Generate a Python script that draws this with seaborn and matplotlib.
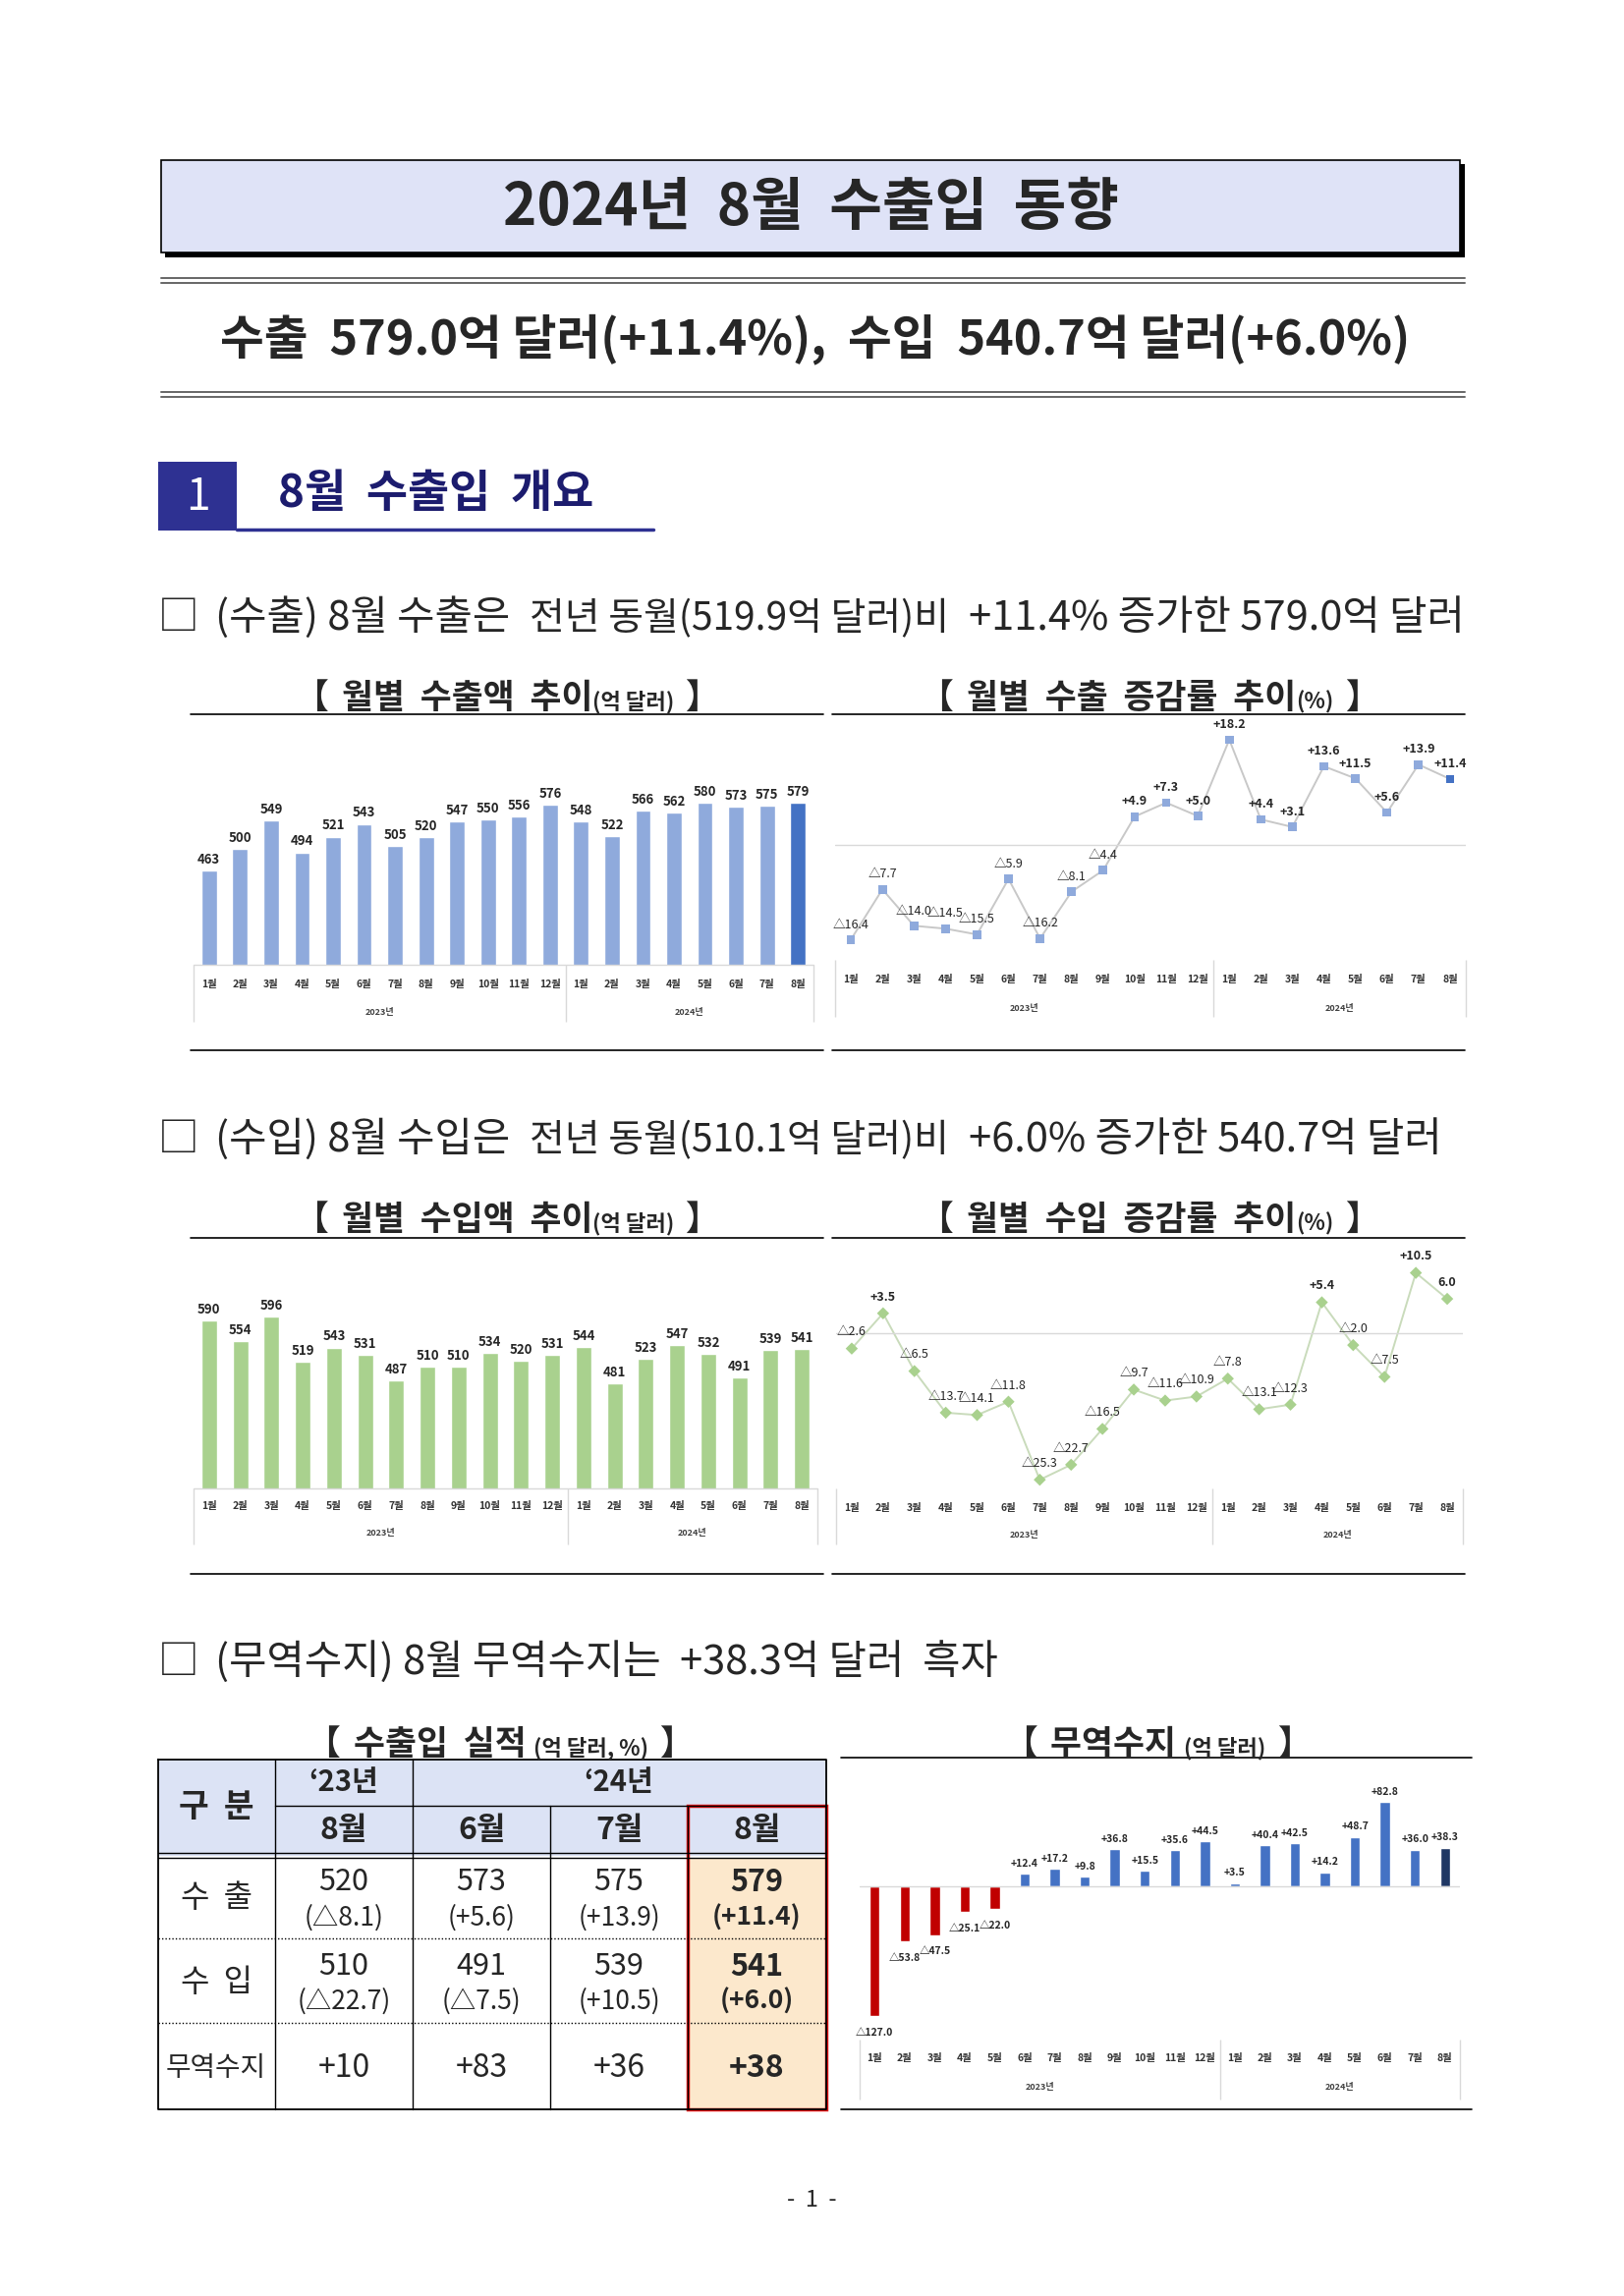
import matplotlib
matplotlib.use('Agg')
import matplotlib.pyplot as plt
from matplotlib.patches import Rectangle
import seaborn as sns
import pandas as pd

###############################################################################
# Data
###############################################################################

months = ['1월', '2월', '3월', '4월', '5월', '6월', '7월', '8월', '9월', '10월', '11월', '12월',
          '1월', '2월', '3월', '4월', '5월', '6월', '7월', '8월']
years = ['2023년', '2024년']
year_of = ['23'] * 12 + ['24'] * 8

# 수출액 (억 달러), 수출 증감률 (%)
exp_amt = [463, 500, 549, 494, 521, 543, 505, 520, 547, 550, 556, 576,
           548, 522, 566, 562, 580, 573, 575, 579]
exp_rate = [-16.4, -7.7, -14.0, -14.5, -15.5, -5.9, -16.2, -8.1, -4.4, 4.9, 7.3, 5.0,
            18.2, 4.4, 3.1, 13.6, 11.5, 5.6, 13.9, 11.4]

# 수입액 (억 달러), 수입 증감률 (%)
imp_amt = [590, 554, 596, 519, 543, 531, 487, 510, 510, 534, 520, 531,
           544, 481, 523, 547, 532, 491, 539, 541]
imp_rate = [-2.6, 3.5, -6.5, -13.7, -14.1, -11.8, -25.3, -22.7, -16.5, -9.7, -11.6, -10.9,
            -7.8, -13.1, -12.3, 5.4, -2.0, -7.5, 10.5, 6.0]

# 무역수지 (억 달러)
balance = [-127.0, -53.8, -47.5, -25.1, -22.0, 12.4, 17.2, 9.8, 36.8, 15.5, 35.6, 44.5,
           3.5, 40.4, 42.5, 14.2, 48.7, 82.8, 36.0, 38.3]

# 수출입 실적 표
tbl_head = ['8월', '6월', '7월', '8월']
tbl_rows = ['수  출', '수  입', '무역수지']
tbl_exp = [520, 573, 575, 579]
tbl_exp_rate = [-8.1, 5.6, 13.9, 11.4]
tbl_imp = [510, 491, 539, 541]
tbl_imp_rate = [-22.7, -7.5, 10.5, 6.0]
tbl_bal = ['+10', '+83', '+36', '+38']

###############################################################################
# Helpers
###############################################################################

W, H = 1653, 2337
keys = [f'{y}.{m}' for y, m in zip(year_of, months)]
idx = list(range(len(months)))


def fmt(v):
    return f'△{abs(v):.1f}' if v < 0 else f'+{v:.1f}'


sns.set_style('white')
plt.rcParams['font.family'] = ['Noto Sans CJK KR', 'DejaVu Sans']

fig = plt.figure(figsize=(W / 100, H / 100), dpi=100)
page = fig.add_axes([0, 0, 1, 1])
page.set_xlim(0, W)
page.set_ylim(H, 0)
page.axis('off')
renderer = fig.canvas.get_renderer()


def px_axes(x0, y0, x1, y1):
    ax = fig.add_axes([x0 / W, 1 - y1 / H, (x1 - x0) / W, (y1 - y0) / H])
    ax.patch.set_alpha(0)
    return ax


def rich(x, y, parts, center=True):
    '''draws text pieces of different size on one baseline'''
    texts, widths = [], []
    for s, size, wt, gap in parts:
        t = page.text(0, y, s, fontsize=size, fontweight=wt, va='baseline', ha='left')
        texts.append(t)
        widths.append(t.get_window_extent(renderer).width + gap)
    x0 = x - sum(widths) / 2 if center else x
    for t, w in zip(texts, widths):
        t.set_x(x0)
        x0 += w


def chart_title(cx, y, main, unit):
    rich(cx, y, [('【', 25, 'bold', 14), (main, 25, 'bold', 0), (unit, 16, 'bold', 12),
                 ('】', 25, 'bold', 0)])


def cat_axis(ax, month_dy, year_dy, div_dy):
    '''multi level category axis (월 / 연도) below the plot area, offsets in px'''
    h = ax.get_position().height * H
    for i, m in enumerate(months):
        ax.annotate(m, xy=(i, 0), xycoords=('data', 'axes fraction'), xytext=(0, -month_dy * 0.72),
                    textcoords='offset points', ha='center', va='center', fontsize=7.5,
                    fontweight='bold', color='#333333')
    for x, y in zip([5.5, 15.5], years):
        ax.annotate(y, xy=(x, 0), xycoords=('data', 'axes fraction'), xytext=(0, -year_dy * 0.72),
                    textcoords='offset points', ha='center', va='center', fontsize=6.5,
                    fontweight='bold', color='#404040')
    ax.vlines([-0.5, 11.5, 19.5], 0, -div_dy / h, transform=ax.get_xaxis_transform(),
              colors='#d9d9d9', lw=1, clip_on=False)
    ax.set_xlim(-0.5, 19.5)
    ax.set_axis_off()


def bar_chart(ax, vals, colors):
    df = pd.DataFrame({'key': keys, 'val': vals})
    sns.barplot(data=df, x='key', y='val', hue='key', palette=dict(zip(keys, colors)),
                legend=False, width=0.5, saturation=1, ax=ax)
    ax.set_ylim(300, 700)
    ax.axhline(300, color='#d9d9d9', lw=1, clip_on=False)
    for i, v in enumerate(vals):
        ax.annotate(f'{v}', xy=(i, v), xytext=(0, 3), textcoords='offset points',
                    ha='center', va='bottom', fontsize=9.5, fontweight='bold')


def rate_chart(ax, vals, labels, line_col, colors, marker, size, ylim, dy):
    sns.lineplot(x=idx, y=vals, color=line_col, lw=1.4, ax=ax)
    sns.scatterplot(x=idx, y=vals, hue=keys, palette=dict(zip(keys, colors)), marker=marker,
                    s=size, edgecolor='none', legend=False, ax=ax, zorder=3)
    ax.set_ylim(*ylim)
    ax.axhline(0, color='#d9d9d9', lw=1)
    for i, (v, lab) in enumerate(zip(vals, labels)):
        ax.annotate(lab, xy=(i, v), xytext=(0, dy), textcoords='offset points', ha='center',
                    va='center', fontsize=9, fontweight='bold' if v > 0 else 'normal')


###############################################################################
# Page header
###############################################################################

page.add_patch(Rectangle((168, 167), 1323, 95, fc='black', ec='none'))
page.add_patch(Rectangle((164, 163), 1322, 94, fc='#dfe3f7', ec='black', lw=1.2))
page.text(825, 212, '2024년  8월  수출입  동향', fontsize=42, fontweight='bold', ha='center', va='center')

for y in [283, 288, 399, 404]:
    page.plot([164, 1491], [y, y], color='#666666', lw=1.4)

rich(830, 360, [('수출  579.0억 달러(+11.4%),  수입  540.7억 달러(+6.0%)', 35, 'bold', 0)])

page.add_patch(Rectangle((161, 470), 80, 70, fc='#2e3192', ec='none'))
page.text(201, 506, '1', fontsize=32, color='white', ha='center', va='center')
page.text(283, 503, '8월  수출입  개요', fontsize=33, fontweight='bold', color='#1c1c6e', va='center')
page.plot([241, 665], [539, 539], color='#2e3192', lw=2.5)

###############################################################################
# 수출
###############################################################################

rich(161, 641, [('□', 30, 'normal', 16), ('(수출) 8월 수출은', 30, 'normal', 20),
                ('전년 동월(519.9억 달러)비', 28, 'normal', 20),
                ('+11.4% 증가한 579.0억 달러', 30, 'normal', 0)], center=False)

chart_title(516, 721, '월별  수출액  추이', '(억 달러)')
chart_title(1170, 721, '월별  수출  증감률  추이', '(%)')
for y in [727, 1069]:
    page.plot([194, 838], [y, y], color='black', lw=1.2)
    page.plot([847, 1491], [y, y], color='black', lw=1.2)

ax = px_axes(197, 746, 828, 982)
bar_chart(ax, exp_amt, ['#8faadc'] * 19 + ['#4472c4'])
cat_axis(ax, 20, 49, 58)

ax = px_axes(850, 740, 1492, 977)
rate_chart(ax, exp_rate, [fmt(v) for v in exp_rate], '#c8c8c8', ['#8faadc'] * 19 + ['#4472c4'],
           's', 40, (-19.9, 20.4), 11)
cat_axis(ax, 20, 49, 58)

###############################################################################
# 수입
###############################################################################

rich(161, 1172, [('□', 30, 'normal', 16), ('(수입) 8월 수입은', 30, 'normal', 20),
                 ('전년 동월(510.1억 달러)비', 28, 'normal', 20),
                 ('+6.0% 증가한 540.7억 달러', 30, 'normal', 0)], center=False)

chart_title(516, 1252, '월별  수입액  추이', '(억 달러)')
chart_title(1170, 1252, '월별  수입  증감률  추이', '(%)')
for y in [1260, 1602]:
    page.plot([194, 838], [y, y], color='black', lw=1.2)
    page.plot([847, 1491], [y, y], color='black', lw=1.2)

ax = px_axes(197, 1279, 832, 1515)
bar_chart(ax, imp_amt, ['#a9d18e'] * 20)
cat_axis(ax, 18, 46, 57)

imp_labels = [fmt(v) for v in imp_rate]
imp_labels[-1] = '6.0'
ax = px_axes(851, 1275, 1489, 1515)
rate_chart(ax, imp_rate, imp_labels, '#c9dbbb', ['#a9d18e'] * 20, 'D', 40, (-26.8, 14.0), 12)
cat_axis(ax, 20, 48, 57)

###############################################################################
# 무역수지
###############################################################################

rich(161, 1704, [('□', 30, 'normal', 16), ('(무역수지) 8월 무역수지는', 30, 'normal', 20),
                 ('+38.3억 달러  흑자', 30, 'normal', 0)], center=False)

chart_title(509, 1786, '수출입  실적 ', '(억 달러, %)')
chart_title(1178, 1786, '무역수지 ', '(억 달러)')
page.plot([856, 1498], [1789, 1789], color='black', lw=1.2)
page.plot([856, 1498], [2147, 2147], color='black', lw=1.2)

# table
cols = [161, 280, 420, 560, 700, 841]
page.add_patch(Rectangle((161, 1791), 680, 98, fc='#dce3f5', ec='none'))
page.add_patch(Rectangle((700, 1891), 141, 256, fc='#fce8cc', ec='none'))
page.plot([161, 841, 841, 161, 161], [1791, 1791, 2147, 2147, 1791], color='black', lw=1.3)
for x in [280, 420]:
    page.plot([x, x], [1791, 2147], color='black', lw=1)
for x in [560, 700]:
    page.plot([x, x], [1838, 2147], color='black', lw=1)
page.plot([280, 841], [1838, 1838], color='black', lw=1)
for y in [1886, 1891]:
    page.plot([161, 841], [y, y], color='black', lw=1)
for y in [1973, 2059]:
    page.plot([161, 841], [y, y], color='black', lw=1, ls=(0, (1, 1.5)))
page.add_patch(Rectangle((700, 1838), 141, 309, fill=False, ec='#e01010', lw=2.5))

page.text(220, 1840, '구  분', fontsize=24, fontweight='bold', ha='center', va='center')
page.text(350, 1814, '‘23년', fontsize=21, fontweight='bold', ha='center', va='center')
page.text(630, 1814, '‘24년', fontsize=21, fontweight='bold', ha='center', va='center')
for j, hd in enumerate(tbl_head):
    page.text((cols[j + 1] + cols[j + 2]) / 2, 1863, hd, fontsize=23, fontweight='bold',
              ha='center', va='center')
for lab, y in zip(tbl_rows, [1932, 2018, 2105]):
    page.text(220, y, lab, fontsize=23 if lab != '무역수지' else 20, ha='center', va='center')
for j in range(4):
    cx = (cols[j + 1] + cols[j + 2]) / 2
    wt = 'bold' if j == 3 else 'normal'
    page.text(cx, 1916, f'{tbl_exp[j]}', fontsize=22, fontweight=wt, ha='center', va='center')
    page.text(cx, 1952, f'({fmt(tbl_exp_rate[j])})', fontsize=19, fontweight=wt, ha='center', va='center')
    page.text(cx, 2002, f'{tbl_imp[j]}', fontsize=22, fontweight=wt, ha='center', va='center')
    page.text(cx, 2037, f'({fmt(tbl_imp_rate[j])})', fontsize=19, fontweight=wt, ha='center', va='center')
    page.text(cx, 2105, tbl_bal[j], fontsize=23, fontweight=wt, ha='center', va='center')

# trade balance chart
ax = px_axes(875, 1800, 1486, 2076)
bal_colors = ['#c00000' if v < 0 else '#4472c4' for v in balance]
bal_colors[-1] = '#203864'
df = pd.DataFrame({'key': keys, 'val': balance})
sns.barplot(data=df, x='key', y='val', hue='key', palette=dict(zip(keys, bal_colors)),
            legend=False, width=0.34, saturation=1, ax=ax)
ax.set_ylim(-149.9, 115.8)
ax.axhline(0, color='#d9d9d9', lw=1)
for i, v in enumerate(balance):
    ax.annotate(fmt(v), xy=(i, v), xytext=(0, 4 if v > 0 else -12), textcoords='offset points',
                ha='center', va='bottom' if v > 0 else 'center', fontsize=7.5, fontweight='bold')
cat_axis(ax, 19, 49, 61)

page.text(826, 2239, '-  1  -', fontsize=17, ha='center', va='center')

plt.savefig('out.png', dpi=100, facecolor='white')
